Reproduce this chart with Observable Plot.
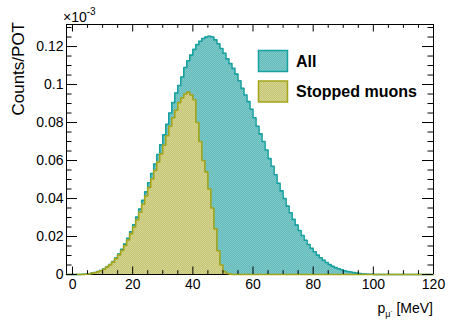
<!DOCTYPE html>
<html><head><meta charset="utf-8">
<script src="https://cdn.jsdelivr.net/npm/d3@7"></script>
<script src="https://cdn.jsdelivr.net/npm/@observablehq/plot@0.6"></script>
<style>
body{margin:0;background:#fff;}
#chart{position:relative;width:453px;height:324px;}
</style>
</head><body><div id="chart"></div>
<script>
// Histogram contents in units of 1e-3 Counts/POT, 1 MeV bins starting at 0 MeV
const allCounts = [
  0, 0, 0, 0.0001, 0.0002, 0.0004, 0.0007, 0.0010, 0.0015, 0.0021,
  0.0030, 0.0040, 0.0053, 0.0068, 0.0087, 0.0108, 0.0132, 0.0160, 0.0190, 0.0225,
  0.0262, 0.0302, 0.0345, 0.0390, 0.0435, 0.0483, 0.0532, 0.0582, 0.0632, 0.0683,
  0.0735, 0.0790, 0.0850, 0.0905, 0.0955, 0.0995, 0.1040, 0.1090, 0.1125, 0.1155,
  0.1185, 0.1210, 0.1228, 0.1242, 0.1250, 0.1254, 0.1250, 0.1235, 0.1215, 0.1190,
  0.1165, 0.1135, 0.1110, 0.1085, 0.1055, 0.1020, 0.0980, 0.0945, 0.0910, 0.0870,
  0.0825, 0.0780, 0.0740, 0.0700, 0.0655, 0.0610, 0.0570, 0.0525, 0.0480, 0.0440,
  0.0400, 0.0360, 0.0325, 0.0290, 0.0260, 0.0232, 0.0205, 0.0180, 0.0158, 0.0138,
  0.0120, 0.0102, 0.0088, 0.0075, 0.0063, 0.0052, 0.0043, 0.0036, 0.0030, 0.0025,
  0.0020, 0.0016, 0.0013, 0.0010, 0.0007, 0.0005, 0.0003, 0.0002, 0.0001, 0.0001
];
const stoppedCounts = [
  0, 0, 0, 0, 0.0001, 0.0003, 0.0006, 0.0009, 0.0014, 0.0020,
  0.0028, 0.0038, 0.0050, 0.0065, 0.0083, 0.0103, 0.0126, 0.0153, 0.0182, 0.0215,
  0.0250, 0.0288, 0.0328, 0.0370, 0.0413, 0.0458, 0.0503, 0.0548, 0.0592, 0.0635,
  0.0680, 0.0730, 0.0780, 0.0825, 0.0865, 0.0905, 0.0930, 0.0950, 0.0960, 0.0945,
  0.0920, 0.0800, 0.0700, 0.0600, 0.0540, 0.0450, 0.0350, 0.0240, 0.0125, 0.0050,
  0.0015, 0.0005, 0.0002
];
const xRange = [-2, 120];
const yRange = [0, 0.1316];
const xTicksMajor = [0, 20, 40, 60, 80, 100, 120];
const xTicksMinor = [5, 10, 15, 25, 30, 35, 45, 50, 55, 65, 70, 75, 85, 90, 95, 105, 110, 115];
const yTicksMajor = [0, 0.02, 0.04, 0.06, 0.08, 0.1, 0.12];
const yTickLabels = ["0", "0.02", "0.04", "0.06", "0.08", "0.1", "0.12"];
const yTicksMinor = [0.005, 0.01, 0.015, 0.025, 0.03, 0.035, 0.045, 0.05, 0.055, 0.065, 0.07, 0.075,
                     0.085, 0.09, 0.095, 0.105, 0.11, 0.115, 0.125, 0.13];
const seriesNames = ["All", "Stopped muons"];

const W = 453, H = 324, ML = 66, MR = 20, MT = 24, MB = 50;
const FW = W - ML - MR, FH = H - MT - MB;
const tealLine = "#17a0a0", oliveLine = "#a2a41a";

function histPoints(counts) {
  const pts = [];
  for (let b = xRange[0]; b < xRange[1]; b++) {
    pts.push({x: b, y: (b >= 0 && b < counts.length) ? counts[b] : 0});
  }
  pts.push({x: xRange[1], y: pts[pts.length - 1].y});
  return pts;
}
const allPts = histPoints(allCounts);
const stopPts = histPoints(stoppedCounts);

const font = "'Liberation Sans', Arial, Helvetica, sans-serif";

const svg = Plot.plot({
  width: W, height: H,
  marginLeft: ML, marginRight: MR, marginTop: MT, marginBottom: MB,
  x: {domain: xRange, axis: null},
  y: {domain: yRange, axis: null},
  style: {fontFamily: font, background: "white", color: "black"},
  marks: [
    Plot.frame({stroke: "black", strokeWidth: 1}),
    Plot.areaY(allPts, {x: "x", y: "y", curve: "step-after", fill: "url(#patAll)"}),
    Plot.lineY(allPts, {x: "x", y: "y", curve: "step-after", stroke: tealLine, strokeWidth: 1.6}),
    Plot.areaY(stopPts, {x: "x", y: "y", curve: "step-after", fill: "url(#patStop)"}),
    Plot.lineY(stopPts, {x: "x", y: "y", curve: "step-after", stroke: oliveLine, strokeWidth: 1.6}),
    // inward ticks, bottom & top
    Plot.ruleX(xTicksMajor, {x: d => d, insetTop: FH - 7.5, stroke: "black"}),
    Plot.ruleX(xTicksMinor, {x: d => d, insetTop: FH - 3.8, stroke: "black"}),
    Plot.ruleX(xTicksMajor, {x: d => d, insetBottom: FH - 7.5, stroke: "black"}),
    Plot.ruleX(xTicksMinor, {x: d => d, insetBottom: FH - 3.8, stroke: "black"}),
    // inward ticks, left & right
    Plot.ruleY(yTicksMajor, {y: d => d, insetRight: FW - 11, stroke: "black"}),
    Plot.ruleY(yTicksMinor, {y: d => d, insetRight: FW - 5.5, stroke: "black"}),
    Plot.ruleY(yTicksMajor, {y: d => d, insetLeft: FW - 11, stroke: "black"}),
    Plot.ruleY(yTicksMinor, {y: d => d, insetLeft: FW - 5.5, stroke: "black"}),
    // tick labels
    Plot.text(xTicksMajor, {x: d => d, text: d => String(d), frameAnchor: "bottom", lineAnchor: "top", dy: 5, fontSize: 14, fill: "black"}),
    Plot.text(yTicksMajor, {y: d => d, text: (d, i) => yTickLabels[i], frameAnchor: "left", textAnchor: "end", dx: -3, fontSize: 14, fill: "black"})
  ]
});

const s = d3.select(svg);
const defs = s.insert("defs", ":first-child");
function pattern(id, base, light) {
  const p = defs.append("pattern").attr("id", id).attr("patternUnits", "userSpaceOnUse")
    .attr("width", 2).attr("height", 2);
  p.append("rect").attr("width", 2).attr("height", 2).attr("fill", base);
  p.append("rect").attr("x", 0).attr("y", 0).attr("width", 1).attr("height", 1).attr("fill", light);
  p.append("rect").attr("x", 1).attr("y", 1).attr("width", 1).attr("height", 1).attr("fill", light);
}
pattern("patAll", "#62baba", "#80caca");
pattern("patStop", "#c4c472", "#d6d694");

// legend
const leg = s.append("g").attr("font-family", font).attr("text-anchor", "start");
const legItems = [
  {name: seriesNames[0], fill: "url(#patAll)", stroke: tealLine, y: 50.5},
  {name: seriesNames[1], fill: "url(#patStop)", stroke: oliveLine, y: 81}
];
legItems.forEach(it => {
  leg.append("rect").attr("x", 258.5).attr("y", it.y).attr("width", 29).attr("height", 21)
    .attr("fill", it.fill).attr("stroke", it.stroke).attr("stroke-width", 1.5);
  leg.append("text").attr("x", 296).attr("y", it.y + 10.5).attr("dy", "0.35em")
    .attr("text-anchor", "start")
    .attr("font-size", 16).attr("font-weight", "bold").attr("fill", "black").text(it.name);
});

// exponent label
const ex = s.append("text").attr("x", 63).attr("y", 22).attr("text-anchor", "start")
  .attr("font-family", font).attr("font-size", 14).attr("fill", "black");
ex.append("tspan").text("\u00d710");
ex.append("tspan").attr("dy", -7).attr("font-size", 10).text("-3");

// y title
s.append("text").attr("transform", "translate(24,22) rotate(-90)").attr("text-anchor", "end")
  .attr("font-family", font).attr("font-size", 17).attr("fill", "black").text("Counts/POT");

// x title
const xt = s.append("text").attr("x", ML + FW).attr("y", 313).attr("text-anchor", "end")
  .attr("font-family", font).attr("font-size", 14).attr("fill", "black");
xt.append("tspan").text("p");
xt.append("tspan").attr("dy", 4).attr("font-size", 9).text("\u03bc");
xt.append("tspan").attr("dy", -4).attr("font-size", 6).text("-");
xt.append("tspan").attr("dy", 0).text(" [MeV]");

document.getElementById("chart").appendChild(svg);
</script>
</body></html>
